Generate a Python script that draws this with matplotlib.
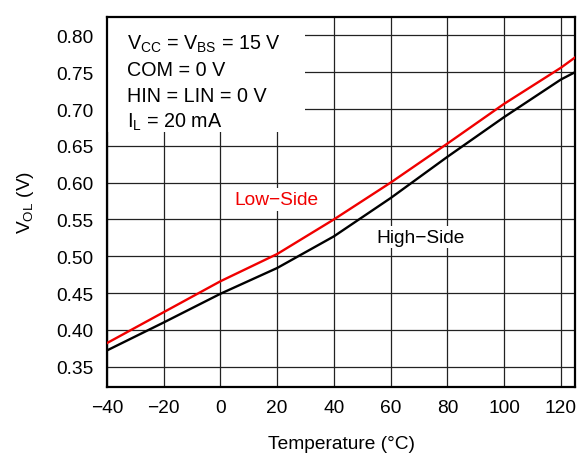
import matplotlib
matplotlib.use("Agg")
import matplotlib.pyplot as plt
from matplotlib.patches import Rectangle

plt.rcParams['font.family'] = ['Liberation Sans', 'DejaVu Sans']
plt.rcParams['mathtext.fontset'] = 'custom'
plt.rcParams['mathtext.rm'] = 'Liberation Sans'
plt.rcParams['axes.unicode_minus'] = True

temperature = [-40, -20, 0, 20, 40, 60, 80, 100, 120, 125]
low_side = [0.382, 0.424, 0.466, 0.503, 0.550, 0.600, 0.653, 0.707, 0.756, 0.770]
high_side = [0.372, 0.410, 0.449, 0.484, 0.527, 0.579, 0.635, 0.689, 0.740, 0.750]

x_ticks = [-40, -20, 0, 20, 40, 60, 80, 100, 120]
y_ticks = [0.35, 0.40, 0.45, 0.50, 0.55, 0.60, 0.65, 0.70, 0.75, 0.80]

conditions = [r'V$_{\mathregular{CC}}$ = V$_{\mathregular{BS}}$ = 15 V',
              'COM = 0 V',
              'HIN = LIN = 0 V',
              r'I$_{\mathregular{L}}$ = 20 mA']

FS = 13.8
RED = '#f00000'

fig = plt.figure(figsize=(5.88, 4.6), dpi=100)
ax = fig.add_axes([107/588, 1-387.5/460, (575-107)/588, (387.5-18)/460])

ax.set_xlim(-40, 125)
ax.set_ylim(0.323, 0.825)
ax.set_xticks(x_ticks)
ax.set_xticklabels([f"{t}".replace('-', '\u2212') for t in x_ticks])
ax.set_yticks(y_ticks)
ax.set_yticklabels([f"{v:.2f}" for v in y_ticks])
ax.grid(True, color='#222222', linewidth=0.9)
ax.set_axisbelow(True)
ax.tick_params(length=0, labelsize=FS)
ax.tick_params(axis='x', pad=9)
ax.tick_params(axis='y', pad=10)
for s in ax.spines.values():
    s.set_linewidth(1.6)
    s.set_color('black')

ax.plot(temperature, high_side, color='black', linewidth=1.7, zorder=3)
ax.plot(temperature, low_side, color=RED, linewidth=1.7, zorder=3)

ax.set_xlabel('Temperature (\u00b0C)', fontsize=FS, labelpad=14)
ax.set_ylabel(r'V$_{\mathregular{OL}}$ (V)', fontsize=FS, labelpad=14)

# white box behind the conditions text
ax.add_patch(Rectangle((0, 0.689), 0.423, 0.311, transform=ax.transAxes,
                       facecolor='white', edgecolor='none', zorder=2))
for txt, yb in zip(conditions, [0.9134, 0.843, 0.7726, 0.7023]):
    ax.text(0.0427, yb, txt, transform=ax.transAxes, fontsize=FS + 0.4,
            ha='left', va='baseline', zorder=4)

ax.text(19.8, 0.577, 'Low\u2212Side', color=RED, fontsize=FS, ha='center', va='center',
        bbox=dict(facecolor='white', edgecolor='none', pad=2), zorder=4)
ax.text(70.4, 0.526, 'High\u2212Side', color='black', fontsize=FS, ha='center', va='center',
        bbox=dict(facecolor='white', edgecolor='none', pad=2), zorder=4)

fig.savefig('out.png', dpi=100)
